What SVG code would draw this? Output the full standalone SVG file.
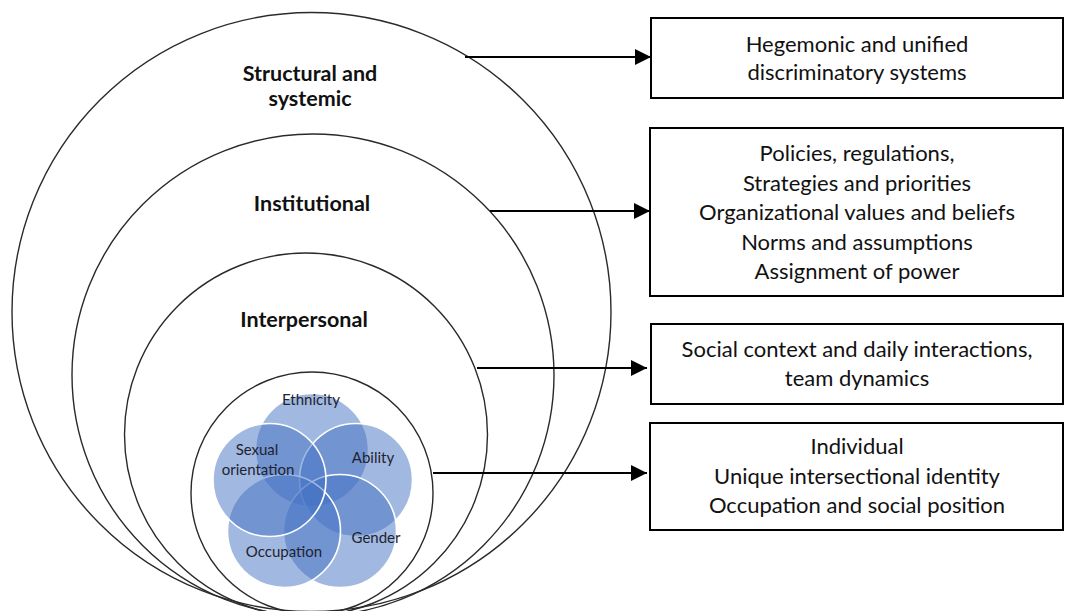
<svg xmlns="http://www.w3.org/2000/svg" width="1065" height="611" viewBox="0 0 1065 611">
  <style>
    .ring { fill: none; stroke: #2a2a2a; stroke-width: 1.4; }
    .lvl { font-family: Lato, "Liberation Sans", sans-serif; font-weight: bold; font-size: 21.5px; fill: #111; text-anchor: middle; }
    .box { fill: #fff; stroke: #000; stroke-width: 2; }
    .btxt { font-family: Lato, "Liberation Sans", sans-serif; font-size: 22px; fill: #111; text-anchor: middle; }
    .petal { fill: #4472c4; fill-opacity: 0.5; stroke: #fff; stroke-width: 1.6; }
    .ptxt { font-family: Lato, "Liberation Sans", sans-serif; font-size: 15px; fill: #1e2330; text-anchor: middle; }
    .conn { stroke: #000; stroke-width: 2.2; fill: none; marker-end: url(#head); }
  </style>
  <defs>
    <marker id="head" viewBox="0 0 10 10" refX="10" refY="5" markerWidth="16" markerHeight="16" markerUnits="userSpaceOnUse" orient="auto">
      <path d="M0,0 L10,5 L0,10 Z" fill="#000"/>
    </marker>
  </defs>
  <rect width="1065" height="611" fill="#fff"/>

  <!-- nested levels -->
  <g id="structural">
    <circle class="ring" cx="311.5" cy="312" r="299.5"/>
    <text class="lvl" x="310" y="81">Structural and</text>
    <text class="lvl" x="310" y="106">systemic</text>
  </g>
  <g id="institutional">
    <circle class="ring" cx="313" cy="375" r="241"/>
    <text class="lvl" x="312" y="211">Institutional</text>
  </g>
  <g id="interpersonal">
    <circle class="ring" cx="306" cy="434.5" r="181.5"/>
    <text class="lvl" x="304" y="327">Interpersonal</text>
  </g>
  <g id="individual">
    <circle class="ring" cx="312" cy="493" r="121"/>
    <g id="identity">
      <circle class="petal" cx="312" cy="450" r="56.5"/>
      <circle class="petal" cx="356" cy="480" r="56.5"/>
      <circle class="petal" cx="340" cy="531" r="56.5"/>
      <circle class="petal" cx="284" cy="531" r="56.5"/>
      <circle class="petal" cx="269.5" cy="480" r="56.5"/>
      <text class="ptxt" x="311" y="405">Ethnicity</text>
      <text class="ptxt" x="257" y="455">Sexual</text>
      <text class="ptxt" x="258" y="475">orientation</text>
      <text class="ptxt" x="373" y="463">Ability</text>
      <text class="ptxt" x="376" y="543">Gender</text>
      <text class="ptxt" x="284" y="557">Occupation</text>
    </g>
  </g>

  <!-- description boxes -->
  <g id="box-systems">
    <rect class="box" x="651" y="18" width="412" height="80"/>
    <text class="btxt" x="857" y="52">Hegemonic and unified</text>
    <text class="btxt" x="857" y="80">discriminatory systems</text>
  </g>
  <g id="box-institution">
    <rect class="box" x="650" y="128" width="413" height="168"/>
    <text class="btxt" x="857" y="161">Policies, regulations,</text>
    <text class="btxt" x="857" y="191">Strategies and priorities</text>
    <text class="btxt" x="857" y="220">Organizational values and beliefs</text>
    <text class="btxt" x="857" y="250">Norms and assumptions</text>
    <text class="btxt" x="857" y="279">Assignment of power</text>
  </g>
  <g id="box-social">
    <rect class="box" x="651" y="324" width="412" height="80"/>
    <text class="btxt" x="857" y="357">Social context and daily interactions,</text>
    <text class="btxt" x="857" y="386">team dynamics</text>
  </g>
  <g id="box-person">
    <rect class="box" x="650" y="423" width="413" height="107"/>
    <text class="btxt" x="857" y="454">Individual</text>
    <text class="btxt" x="857" y="484">Unique intersectional identity</text>
    <text class="btxt" x="857" y="513">Occupation and social position</text>
  </g>

  <!-- connectors -->
  <g id="connectors">
    <line class="conn" x1="465" y1="57" x2="651" y2="57"/>
    <line class="conn" x1="490" y1="211" x2="650" y2="211"/>
    <line class="conn" x1="477" y1="368" x2="647" y2="368"/>
    <line class="conn" x1="433" y1="473" x2="647" y2="473"/>
  </g>
</svg>
